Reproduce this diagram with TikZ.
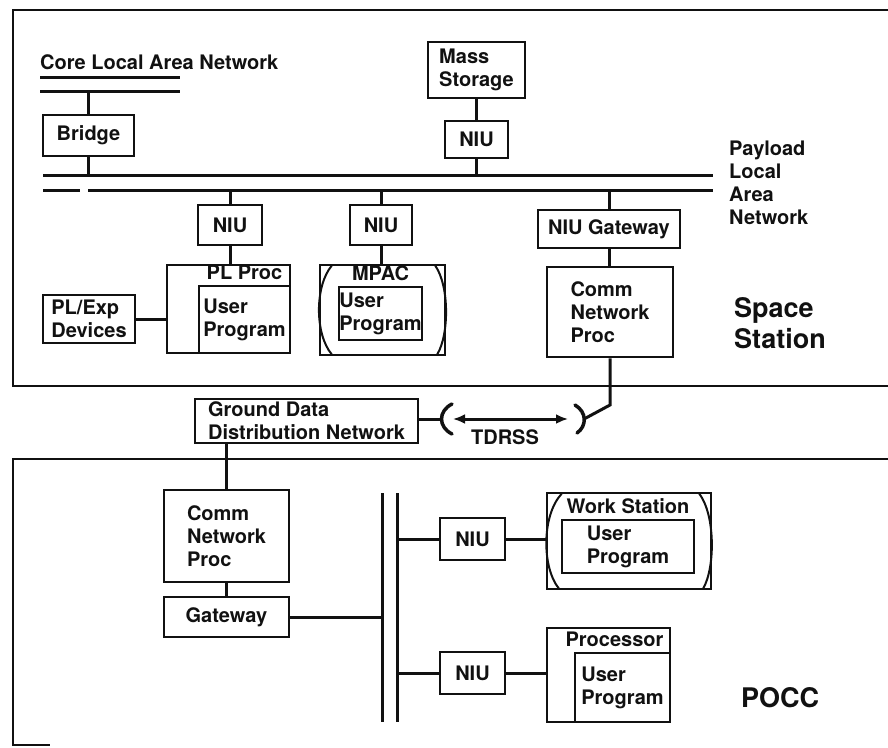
\documentclass[tikz,border=0pt]{standalone}
\usepackage{fontspec}
\setmainfont{TeX Gyre Heros}
\usetikzlibrary{
  arrows.meta,
  calc,
  positioning
}
\definecolor{netInk}{HTML}{111111}
\tikzset{
  every node/.style={font=\fontsize{20}{23}\selectfont\bfseries, text=netInk},
  unit/.style={
    draw=netInk,
    line width=2.6pt,
    inner sep=0pt,
    align=left
  },
  title/.style={anchor=base, inner sep=0pt, yshift=5.5pt},
  bigtag/.style={
    font=\fontsize{27}{31}\selectfont\bfseries,
    align=left,
    anchor=west,
    inner sep=0pt
  },
  wire/.style={draw=netInk, line width=3pt},
  bus/.style={draw=netInk, line width=3pt},
  frame/.style={draw=netInk, line width=2pt},
  screen/.style={draw=netInk, line width=2pt},
  dish/.style={draw=netInk, line width=3.5pt, line cap=round},
  link/.style={
    {Latex[length=12pt,width=10pt]}-{Latex[length=12pt,width=10pt]},
    line width=3pt,
    draw=netInk
  }
}

\begin{document}
\begin{tikzpicture}[x=1pt,y=-1pt]
  \useasboundingbox (0,0) rectangle (888,747);

  % enclosures
  \draw[frame] (888,10) -- (13,10) -- (13,386) -- (888,386);
  \draw[frame] (888,459) -- (13,459) -- (13,745) -- (50,745);

  % space station
  \node[anchor=base west, inner sep=0pt] (corelabel) at (40,69) {Core Local Area Network};
  \coordinate (coreA) at (40,77);  \coordinate (coreB) at (180,77);
  \coordinate (coreC) at (40,91);  \coordinate (coreD) at (180,91);
  \draw[bus] (coreA) -- (coreB);
  \draw[bus] (coreC) -- (coreD);

  \coordinate (planA) at (43,175);  \coordinate (planB) at (713,175);
  \coordinate (planC) at (43,190);  \coordinate (planD) at (80,190);
  \coordinate (planE) at (88,190);  \coordinate (planF) at (713,190);
  \draw[bus] (planA) -- (planB);
  \draw[bus] (planC) -- (planD);
  \draw[bus] (planE) -- (planF);
  \node[anchor=north west, align=left, inner sep=0pt] (payload) at (729,141)
    {Payload\\Local\\Area\\Network};

  \node[unit, minimum width=91pt, minimum height=41pt] (bridge) at (88.5,135.5) {Bridge};
  \node[unit, minimum width=97pt, minimum height=56pt] (mass) at (476.5,70) {Mass\\Storage};
  \node[unit, minimum width=63pt, minimum height=37pt] (niuM) at (476.5,139.5) {NIU};

  \node[unit, minimum width=64pt, minimum height=40pt] (niuA) at (230,225) {NIU};
  \node[unit, minimum width=62pt, minimum height=40pt] (niuB) at (381,225) {NIU};
  \node[unit, minimum width=142pt, minimum height=38pt] (niuG) at (609,229) {NIU Gateway};

  \node[unit, minimum width=123pt, minimum height=88pt] (plproc) at (228.5,309) {};
  \node[unit, minimum width=91pt, minimum height=67pt] (plprog) at (244.5,319.5) {User\\Program};
  \node[title] (plproctitle) at (plprog.north) {PL Proc};
  \node[unit, minimum width=92pt, minimum height=48pt] (devices) at (89,319) {PL/Exp\\Devices};

  \node[unit, minimum width=125pt, minimum height=90pt] (mpac) at (382.5,310) {};
  \node[unit, minimum width=83pt, minimum height=53pt] (mpacprog) at (380.5,313.5) {User\\Program};
  \node[title] (mpactitle) at (mpacprog.north) {MPAC};
  \draw[screen] ($(mpac.north west)+(13,2)$) .. controls ($(mpac.west)+(-4,-24)$)
    and ($(mpac.west)+(-4,24)$) .. ($(mpac.south west)+(13,-2)$);
  \draw[screen] ($(mpac.north east)+(-11,2)$) .. controls ($(mpac.east)+(3,-24)$)
    and ($(mpac.east)+(3,24)$) .. ($(mpac.south east)+(-9,-2)$);

  \node[unit, minimum width=126pt, minimum height=90pt] (commS) at (610,312) {Comm\\Network\\Proc};
  \node[bigtag] (spacetag) at (734,323) {Space\\Station};

  \draw[wire] (bridge.north) -- (bridge.north |- coreC);
  \draw[wire] (bridge.south) -- (bridge.south |- planA);
  \draw[wire] (mass.south) -- (niuM.north);
  \draw[wire] (niuM.south) -- (niuM.south |- planA);
  \foreach \n in {niuA,niuB,niuG}
    \draw[wire] (\n.north) -- (\n.north |- planF);
  \draw[wire] (niuA.south) -- (niuA.south |- plproc.north);
  \draw[wire] (niuB.south) -- (niuB.south |- mpac.north);
  \draw[wire] (niuG.south) -- (niuG.south |- commS.north);
  \draw[wire] (devices.east) -- (devices.east -| plproc.west);

  % TDRSS link
  \node[unit, minimum width=223pt, minimum height=44pt] (gddn) at (306.5,421)
    {Ground Data\\Distribution Network};
  \coordinate (antL) at (441,419);
  \coordinate (antR) at (585,419);
  \coordinate (feed) at (610,405);
  \draw[dish] ($(antL)+(11,-15)$) .. controls ($(antL)+(-3,-8)$)
    and ($(antL)+(-3,8)$) .. ($(antL)+(11,15)$);
  \draw[dish] ($(antR)+(-10,-14)$) .. controls ($(antR)+(2,-7)$)
    and ($(antR)+(2,7)$) .. ($(antR)+(-8,14)$);
  \draw[wire] (antL -| gddn.east) -- (antL);
  \draw[link] ($(antL)+(12,0)$) -- ($(antR)+(-17,0)$);
  \node (tdrss) at (505,437) {TDRSS};
  \draw[wire] (commS.south) -- (commS.south |- feed) -- ($(antR)+(-1,0)$);

  % POCC
  \node[unit, minimum width=125pt, minimum height=92pt] (commP) at (226.5,536) {Comm\\Network\\Proc};
  \node[unit, minimum width=125pt, minimum height=40pt] (gateP) at (226.5,617) {Gateway};
  \coordinate (busLtop) at (382,493);  \coordinate (busLbot) at (382,722);
  \coordinate (busRtop) at (397,493);  \coordinate (busRbot) at (397,722);
  \draw[bus] (busLtop) -- (busLbot);
  \draw[bus] (busRtop) -- (busRbot);

  \node[unit, minimum width=65pt, minimum height=42pt] (niuW) at (472.5,539) {NIU};
  \node[unit, minimum width=164pt, minimum height=96pt] (ws) at (629,541) {};
  \node[unit, minimum width=132pt, minimum height=53pt] (wsprog) at (628,546.5) {User\\Program};
  \node[title] (wstitle) at (wsprog.north) {Work Station};
  \draw[screen] ($(ws.north west)+(16,2)$) .. controls ($(ws.west)+(-4,-26)$)
    and ($(ws.west)+(-4,26)$) .. ($(ws.south west)+(13,-2)$);
  \draw[screen] ($(ws.north east)+(-13,2)$) .. controls ($(ws.east)+(3,-26)$)
    and ($(ws.east)+(3,26)$) .. ($(ws.south east)+(-9,-2)$);

  \node[unit, minimum width=65pt, minimum height=42pt] (niuP) at (472.5,673) {NIU};
  \node[unit, minimum width=123pt, minimum height=94pt] (proc) at (608.5,675) {};
  \node[unit, minimum width=95pt, minimum height=69pt] (procprog) at (622.5,687.5) {User\\Program};
  \node[title, xshift=-8pt] (proctitle) at (procprog.north) {Processor};
  \node[bigtag] (pocctag) at (741,698) {POCC};

  \draw[wire] (gddn.south -| commP.north) -- (commP.north);
  \draw[wire] (commP.south) -- (gateP.north);
  \draw[wire] (gateP.east) -- (gateP.east -| busLtop);
  \draw[wire] (niuW.west -| busRtop) -- (niuW.west);
  \draw[wire] (niuW.east) -- (niuW.east -| ws.west);
  \draw[wire] (niuP.west -| busRtop) -- (niuP.west);
  \draw[wire] (niuP.east) -- (niuP.east -| proc.west);
\end{tikzpicture}
\end{document}
